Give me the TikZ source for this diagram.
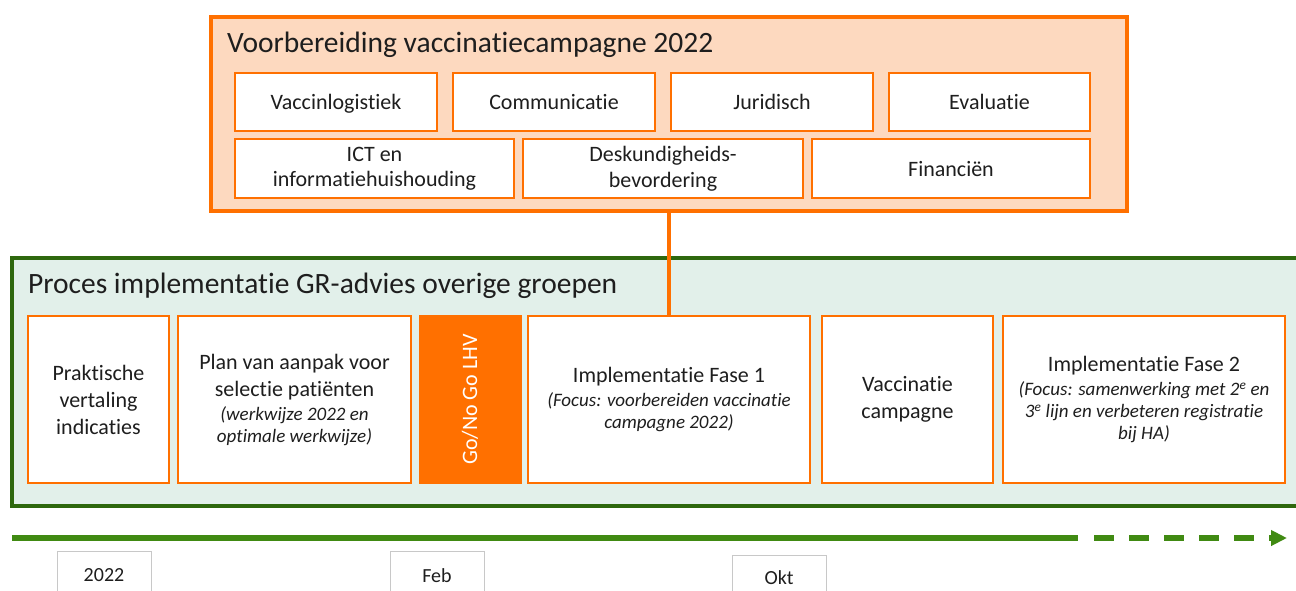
\documentclass[tikz,border=0pt]{standalone}
\usepackage{fontspec}
\setmainfont{Carlito}[Ligatures=NoCommon]
\usetikzlibrary{arrows.meta}
\definecolor{vorange}{RGB}{255,112,0}
\definecolor{vpeach}{RGB}{253,217,191}
\definecolor{vgreen}{RGB}{46,104,14}
\definecolor{vtime}{RGB}{64,138,18}
\definecolor{vmint}{RGB}{226,240,234}
\definecolor{vtext}{RGB}{30,30,30}
\definecolor{vgray}{RGB}{200,200,200}
\newcommand{\vfbig}{\fontsize{29.5}{34}\selectfont}
\newcommand{\vfmid}{\fontsize{22}{25.5}\selectfont}
\newcommand{\vfstep}{\fontsize{22}{27}\selectfont}
\newcommand{\vfital}{\fontsize{19}{22}\selectfont\itshape}
\begin{document}
\begin{tikzpicture}[x=1pt,y=-1pt,
  every node/.style={inner sep=0pt, outer sep=0pt, text=vtext},
  frameorange/.style={draw=vorange, line width=4pt, fill=vpeach, rectangle},
  framegreen/.style={draw=vgreen, line width=3.5pt, fill=vmint, rectangle},
  topitem/.style={draw=vorange, line width=2pt, fill=white, rectangle, align=center, font=\vfmid},
  oneline/.style={text height=20pt, text depth=5pt},
  stepitem/.style={draw=vorange, line width=2pt, fill=white, rectangle, align=center, font=\vfstep},
  gobox/.style={draw=vorange, line width=1pt, fill=vorange, rectangle},
  datebox/.style={draw=vgray, line width=0.8pt, fill=white, rectangle, anchor=north, font=\fontsize{20}{24}\selectfont},
  heading/.style={anchor=base west, font=\vfbig},
  link/.style={draw=vorange, line width=4.5pt},
  timeline/.style={draw=vtime, line width=5.5pt}
]
\useasboundingbox (0,0) rectangle (1296,590);

% top frame
\node[frameorange, minimum width=916pt, minimum height=194pt] (top) at (669,114) {};
\node[heading] (toptitle) at (227,52.7) {Voorbereiding vaccinatiecampagne 2022};
\node[topitem, oneline, minimum width=202pt, minimum height=58pt] (vl) at (336,102) {Vaccinlogistiek};
\node[topitem, oneline, minimum width=202pt, minimum height=58pt] (com) at (554,102) {Communicatie};
\node[topitem, oneline, minimum width=202pt, minimum height=58pt] (jur) at (772,102) {Juridisch};
\node[topitem, oneline, minimum width=201pt, minimum height=58pt] (eva) at (989.5,102) {Evaluatie};
\node[topitem, minimum width=279pt, minimum height=59pt] (ict) at (374.5,168.5) {ICT en\\informatiehuishouding};
\node[topitem, minimum width=280pt, minimum height=59pt] (desk) at (663,168.5) {Deskundigheids-\\bevordering};
\node[topitem, oneline, minimum width=278pt, minimum height=59pt] (fin) at (951,168.5) {Financiën};

% green frame
\node[framegreen, minimum width=1298pt, minimum height=248pt] (proc) at (661,382) {};
\node[heading] (proctitle) at (28,293) {Proces implementatie GR-advies overige groepen};

\node[stepitem, minimum width=141pt, minimum height=167pt] (prak) at (98.5,399.5) {Praktische\\vertaling\\indicaties};
\node[stepitem, minimum width=233pt, minimum height=167pt] (plan) at (294.5,399.5) {Plan van aanpak voor\\selectie patiënten\\[-3pt]{\vfital (werkwijze 2022 en}\\[-5pt]{\vfital optimale werkwijze)}};
\node[gobox, minimum width=102pt, minimum height=168pt] (go) at (470,399.5) {};
\node[text=white, font=\vfstep, rotate=90] (gotext) at (go.center) {Go/No Go LHV};
\node[stepitem, minimum width=282pt, minimum height=167pt] (f1) at (669,399.5) {Implementatie Fase 1\\[-3pt]{\vfital (Focus: voorbereiden vaccinatie}\\[-5pt]{\vfital campagne 2022)}};
\node[stepitem, minimum width=171pt, minimum height=167pt] (vac) at (907.5,399.5) {Vaccinatie\\campagne};
\node[stepitem, minimum width=282pt, minimum height=167pt] (f2) at (1144,399.5) {Implementatie Fase 2\\[-3pt]{\vfital (Focus: samenwerking met 2\textsuperscript{e} en}\\[-5pt]{\vfital 3\textsuperscript{e} lijn en verbeteren registratie}\\[-5pt]{\vfital bij HA)}};

% connector
\draw[link] (top.south -| f1.north) -- (f1.north);

% timeline
\coordinate (t0) at (12,538);
\coordinate (t1) at (1078,538);
\coordinate (t2) at (1094,538);
\coordinate (t3) at (1287,538);
\draw[timeline] (t0) -- (t1);
\draw[timeline, dash pattern=on 20pt off 15pt, -{Triangle[length=16pt, width=15pt]}] (t2) -- (t3);

% dates
\node[datebox, minimum width=94pt, minimum height=49pt, text depth=0pt] (d1) at (104,551) {2022};
\node[datebox, minimum width=94pt, minimum height=49pt, text depth=0pt] (d2) at (437,551) {Feb};
\node[datebox, minimum width=94pt, minimum height=45pt, text depth=0pt] (d3) at (779,555) {Okt};
\end{tikzpicture}
\end{document}
